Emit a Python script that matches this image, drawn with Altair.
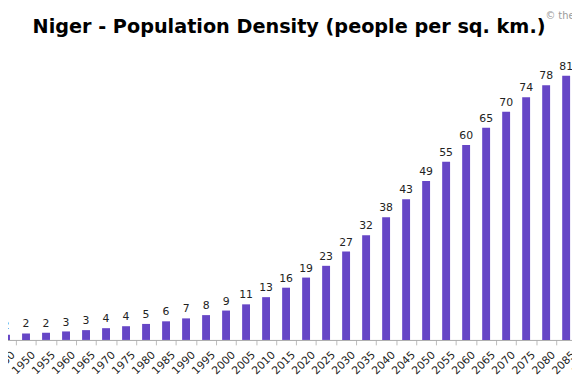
import altair as alt
import pandas as pd

year_labels = ["1950", "1950", "1955", "1960", "1965", "1970", "1975", "1980", "1985", "1990",
               "1995", "2000", "2005", "2010", "2015", "2020", "2025", "2030", "2035", "2040",
               "2045", "2050", "2055", "2060", "2065", "2070", "2075", "2080", "2085", "2090"]
density = [1.6, 2.0, 2.2, 2.6, 3.0, 3.6, 4.2, 4.9, 5.7, 6.6,
           7.6, 9.0, 10.9, 13.1, 16.0, 19.1, 22.7, 27.1, 32.1, 37.6,
           43.1, 48.7, 54.6, 59.7, 65.0, 69.9, 74.3, 78.0, 80.9, 83.5]

df = pd.DataFrame({"idx": list(range(len(year_labels))), "year": year_labels, "value": density})

label_array = "[" + ",".join("'" + y + "'" for y in year_labels) + "]"

FONT = "DejaVu Sans"

x_enc = alt.X(
    "idx:O",
    sort=None,
    scale=alt.Scale(domain=list(range(len(year_labels))), range=[-12.15, 596.5],
                    paddingInner=0, paddingOuter=0),
    axis=alt.Axis(
        title=None,
        labelExpr=label_array + "[datum.value]",
        labelAngle=315,
        labelAlign="right",
        labelBaseline="top",
        labelFont=FONT,
        labelFontSize=11,
        labelColor="#222222",
        labelPadding=4,
        labelOffset=3,
        tickBand="extent",
        tickSize=5,
        tickColor="#bbbbbb",
        domainColor="#aaaaaa",
        labelOverlap=False,
        labelBound=False,
    ),
)
y_enc = alt.Y("value:Q", scale=alt.Scale(domain=[0, 90.6], nice=False), axis=None)

base = alt.Chart(df)

bars = base.mark_bar(width=8, color="#6646c6").encode(x=x_enc, y=y_enc)
labels = base.mark_text(dy=-6, baseline="alphabetic", fontSize=11, font=FONT, color="#222222").encode(
    x=x_enc, y=y_enc, text=alt.Text("value:Q", format=".0f")
)

credit = alt.Chart(pd.DataFrame({"t": ["© theglobaleconomy.com"]})).mark_text(
    align="left", baseline="top", fontSize=10, font=FONT, color="#9a9a9a"
).encode(x=alt.value(545), y=alt.value(-33), text="t:N")

chart = alt.layer(bars, labels, credit).properties(
    width=572,
    height=300,
    autosize=alt.AutoSizeParams(type="none"),
    padding={"left": 0, "right": 0, "top": 34, "bottom": 38},
    title=alt.TitleParams(
        "Niger - Population Density (people per sq. km.)",
        font=FONT, fontSize=19.5, fontWeight="bold", color="#000000",
        anchor="middle", offset=-26, dx=-1,
    ),
).configure_view(stroke=None)

chart.save("out.html", embed_options={"renderer": "svg", "actions": False})
